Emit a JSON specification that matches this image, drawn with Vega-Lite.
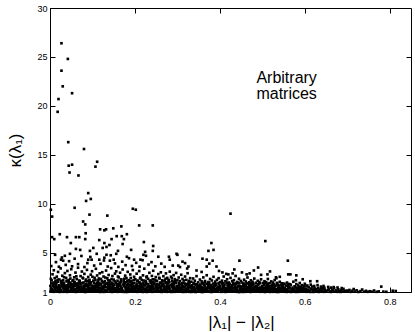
{
"$schema":"https://vega.github.io/schema/vega-lite/v6.json",
"width":361,"height":284,
"autosize":{"type":"none"},
"padding":{"left":50,"top":8,"right":4,"bottom":40},
"background":"white",
"config":{"view":{"stroke":"black","strokeWidth":1},"font":"Liberation Sans",
"axis":{"grid":false,"domainColor":"black","tickColor":"black","tickSize":-5,"labelFontSize":9,"labelColor":"black","labelFont":"Liberation Sans","labelFlush":false,"titleFontSize":17,"titleFontWeight":"normal","titleColor":"black","titleFont":"Liberation Sans"}},
"layer":[
{"data":{"values":[
{"x":0.027,"y":26.4},{"x":0.042,"y":24.8},{"x":0.027,"y":23.6},{"x":0.030,"y":22.0},{"x":0.052,"y":21.3},{"x":0.020,"y":20.7},{"x":0.018,"y":19.4},{"x":0.043,"y":16.3},{"x":0.080,"y":15.6},{"x":0.044,"y":13.9},{"x":0.052,"y":14.0},{"x":0.046,"y":13.2},{"x":0.107,"y":13.8},{"x":0.111,"y":14.3},{"x":0.067,"y":12.9},{"x":0.090,"y":11.1},{"x":0.085,"y":10.3},{"x":0.096,"y":10.5},{"x":0.058,"y":9.6},{"x":0.002,"y":9.4},{"x":0.005,"y":8.7},{"x":0.093,"y":8.9},{"x":0.078,"y":8.2},{"x":0.083,"y":7.9},{"x":0.135,"y":8.8},{"x":0.195,"y":9.5},{"x":0.202,"y":9.4},{"x":0.210,"y":7.8},{"x":0.242,"y":7.8},{"x":0.118,"y":7.4},{"x":0.128,"y":7.3},{"x":0.132,"y":7.4},{"x":0.149,"y":7.5},{"x":0.168,"y":7.7},{"x":0.181,"y":6.9},{"x":0.084,"y":7.0},{"x":0.023,"y":6.9},{"x":0.005,"y":6.6},{"x":0.010,"y":6.4},{"x":0.040,"y":6.6},{"x":0.061,"y":6.6},{"x":0.069,"y":6.6},{"x":0.157,"y":6.7},{"x":0.169,"y":6.7},{"x":0.128,"y":6.0},{"x":0.145,"y":6.4},{"x":0.049,"y":6.0},{"x":0.116,"y":6.3},{"x":0.083,"y":6.4},{"x":0.174,"y":6.4},{"x":0.140,"y":5.8},{"x":0.133,"y":5.6},{"x":0.124,"y":5.5},{"x":0.243,"y":5.7},{"x":0.221,"y":6.1},{"x":0.171,"y":5.9},{"x":0.191,"y":5.3},{"x":0.061,"y":5.4},{"x":0.071,"y":5.3},{"x":0.102,"y":5.5},{"x":0.094,"y":5.2},{"x":0.047,"y":4.9},{"x":0.035,"y":4.7},{"x":0.012,"y":4.8},{"x":0.026,"y":4.3},{"x":0.031,"y":4.2},{"x":0.224,"y":5.1},{"x":0.220,"y":4.8},{"x":0.226,"y":4.7},{"x":0.242,"y":5.2},{"x":0.160,"y":5.2},{"x":0.156,"y":4.9},{"x":0.133,"y":4.8},{"x":0.128,"y":4.5},{"x":0.181,"y":4.6},{"x":0.255,"y":4.6},{"x":0.280,"y":4.6},{"x":0.090,"y":4.3},{"x":0.098,"y":4.3},{"x":0.116,"y":4.3},{"x":0.141,"y":4.2},{"x":0.150,"y":4.3},{"x":0.198,"y":4.3},{"x":0.213,"y":4.3},{"x":0.425,"y":9.0},{"x":0.507,"y":6.2},{"x":0.380,"y":6.0},{"x":0.373,"y":5.2},{"x":0.385,"y":5.3},{"x":0.300,"y":4.8},{"x":0.329,"y":4.8},{"x":0.359,"y":4.4},{"x":0.446,"y":4.2},{"x":0.560,"y":4.2},{"x":0.282,"y":4.3},{"x":0.312,"y":4.1},{"x":0.375,"y":3.9},{"x":0.383,"y":4.2},{"x":0.369,"y":3.6},{"x":0.490,"y":3.5},{"x":0.480,"y":3.2},{"x":0.518,"y":3.1},{"x":0.561,"y":2.8},{"x":0.566,"y":2.8},{"x":0.580,"y":2.7},{"x":0.302,"y":3.7},{"x":0.323,"y":3.4},{"x":0.326,"y":3.6},{"x":0.392,"y":3.6},{"x":0.434,"y":3.3},{"x":0.430,"y":2.9},{"x":0.463,"y":2.8},{"x":0.533,"y":2.4},{"x":0.406,"y":3.0},{"x":0.420,"y":2.8},{"x":0.579,"y":2.2},{"x":0.595,"y":2.3},{"x":0.613,"y":2.1},{"x":0.629,"y":2.1},{"x":0.532,"y":2.5},{"x":0.298,"y":4.9},{"x":0.369,"y":4.3},
{"x":0.001,"y":1.05},{"x":0.003,"y":1.42},{"x":0.004,"y":1.88},{"x":0.006,"y":1.21},{"x":0.007,"y":1.63},{"x":0.009,"y":1.02},{"x":0.010,"y":1.97},{"x":0.012,"y":1.34},{"x":0.013,"y":1.15},{"x":0.015,"y":1.76},{"x":0.016,"y":1.51},{"x":0.018,"y":1.08},{"x":0.019,"y":2.05},{"x":0.021,"y":1.27},{"x":0.022,"y":1.69},{"x":0.024,"y":1.44},{"x":0.025,"y":1.12},{"x":0.027,"y":1.91},{"x":0.028,"y":1.58},{"x":0.030,"y":1.03},{"x":0.031,"y":1.36},{"x":0.033,"y":1.82},{"x":0.034,"y":1.19},{"x":0.036,"y":1.65},{"x":0.037,"y":1.47},{"x":0.039,"y":2.08},{"x":0.040,"y":1.01},{"x":0.042,"y":1.29},{"x":0.043,"y":1.73},{"x":0.045,"y":1.55},{"x":0.046,"y":1.10},{"x":0.048,"y":1.94},{"x":0.049,"y":1.38},{"x":0.002,"y":1.31},{"x":0.008,"y":1.74},{"x":0.014,"y":1.93},{"x":0.020,"y":1.17},{"x":0.026,"y":2.01},{"x":0.032,"y":1.61},{"x":0.038,"y":1.24},{"x":0.044,"y":1.86},{"x":0.047,"y":1.06},{"x":0.011,"y":1.55},{"x":0.017,"y":1.40},{"x":0.023,"y":1.01},{"x":0.029,"y":1.80},{"x":0.035,"y":1.09},{"x":0.041,"y":1.53},{"x":0.005,"y":1.14},{"x":0.050,"y":1.22},
{"x":0.051,"y":1.33},{"x":0.052,"y":1.78},{"x":0.054,"y":1.07},{"x":0.055,"y":1.52},{"x":0.057,"y":1.96},{"x":0.058,"y":1.23},{"x":0.060,"y":1.64},{"x":0.061,"y":1.01},{"x":0.063,"y":1.41},{"x":0.064,"y":1.87},{"x":0.066,"y":1.16},{"x":0.067,"y":1.71},{"x":0.069,"y":1.29},{"x":0.070,"y":2.04},{"x":0.072,"y":1.04},{"x":0.073,"y":1.57},{"x":0.075,"y":1.37},{"x":0.076,"y":1.92},{"x":0.078,"y":1.11},{"x":0.079,"y":1.66},{"x":0.081,"y":1.48},{"x":0.082,"y":1.02},{"x":0.084,"y":1.83},{"x":0.085,"y":1.26},{"x":0.087,"y":1.59},{"x":0.088,"y":2.09},{"x":0.090,"y":1.13},{"x":0.091,"y":1.45},{"x":0.093,"y":1.75},{"x":0.094,"y":1.06},{"x":0.096,"y":1.35},{"x":0.097,"y":1.99},{"x":0.099,"y":1.19},{"x":0.053,"y":1.12},{"x":0.059,"y":1.85},{"x":0.065,"y":1.47},{"x":0.071,"y":1.20},{"x":0.077,"y":1.03},{"x":0.083,"y":1.62},{"x":0.089,"y":1.31},{"x":0.095,"y":1.81},{"x":0.098,"y":1.54},{"x":0.056,"y":1.68},{"x":0.062,"y":1.09},{"x":0.068,"y":1.95},{"x":0.074,"y":1.26},{"x":0.080,"y":1.38},{"x":0.086,"y":1.05},{"x":0.092,"y":1.89},{"x":0.100,"y":1.44},
{"x":0.101,"y":1.08},{"x":0.102,"y":1.61},{"x":0.104,"y":1.93},{"x":0.105,"y":1.30},{"x":0.107,"y":1.14},{"x":0.108,"y":1.79},{"x":0.110,"y":1.46},{"x":0.111,"y":1.03},{"x":0.113,"y":2.02},{"x":0.114,"y":1.25},{"x":0.116,"y":1.67},{"x":0.117,"y":1.39},{"x":0.119,"y":1.10},{"x":0.120,"y":1.85},{"x":0.122,"y":1.56},{"x":0.123,"y":1.18},{"x":0.125,"y":1.98},{"x":0.126,"y":1.34},{"x":0.128,"y":1.02},{"x":0.129,"y":1.72},{"x":0.131,"y":1.49},{"x":0.132,"y":1.21},{"x":0.134,"y":1.90},{"x":0.135,"y":1.07},{"x":0.137,"y":1.60},{"x":0.138,"y":1.43},{"x":0.140,"y":2.07},{"x":0.141,"y":1.15},{"x":0.143,"y":1.77},{"x":0.144,"y":1.28},{"x":0.146,"y":1.01},{"x":0.147,"y":1.53},{"x":0.149,"y":1.84},{"x":0.103,"y":1.37},{"x":0.109,"y":1.06},{"x":0.115,"y":1.88},{"x":0.121,"y":1.23},{"x":0.127,"y":1.64},{"x":0.133,"y":1.11},{"x":0.139,"y":1.32},{"x":0.145,"y":1.96},{"x":0.148,"y":1.04},{"x":0.106,"y":1.52},{"x":0.112,"y":1.70},{"x":0.118,"y":1.01},{"x":0.124,"y":1.42},{"x":0.130,"y":1.16},{"x":0.136,"y":1.81},{"x":0.142,"y":1.50},{"x":0.150,"y":1.27},
{"x":0.151,"y":1.71},{"x":0.152,"y":1.04},{"x":0.154,"y":1.39},{"x":0.155,"y":1.95},{"x":0.157,"y":1.18},{"x":0.158,"y":1.57},{"x":0.160,"y":1.02},{"x":0.161,"y":1.83},{"x":0.163,"y":1.30},{"x":0.164,"y":1.66},{"x":0.166,"y":1.09},{"x":0.167,"y":2.03},{"x":0.169,"y":1.45},{"x":0.170,"y":1.22},{"x":0.172,"y":1.76},{"x":0.173,"y":1.05},{"x":0.175,"y":1.58},{"x":0.176,"y":1.91},{"x":0.178,"y":1.35},{"x":0.179,"y":1.13},{"x":0.181,"y":1.68},{"x":0.182,"y":1.01},{"x":0.184,"y":1.87},{"x":0.185,"y":1.48},{"x":0.187,"y":1.24},{"x":0.188,"y":2.06},{"x":0.190,"y":1.07},{"x":0.191,"y":1.62},{"x":0.193,"y":1.40},{"x":0.194,"y":1.79},{"x":0.196,"y":1.14},{"x":0.197,"y":1.55},{"x":0.199,"y":1.03},{"x":0.153,"y":1.27},{"x":0.159,"y":1.49},{"x":0.165,"y":1.84},{"x":0.171,"y":1.11},{"x":0.177,"y":1.01},{"x":0.183,"y":1.33},{"x":0.189,"y":1.73},{"x":0.195,"y":1.26},{"x":0.198,"y":1.92},{"x":0.156,"y":1.08},{"x":0.162,"y":1.63},{"x":0.168,"y":1.36},{"x":0.174,"y":1.97},{"x":0.180,"y":1.20},{"x":0.186,"y":1.06},{"x":0.192,"y":1.51},{"x":0.200,"y":1.17},
{"x":0.201,"y":1.49},{"x":0.202,"y":1.12},{"x":0.204,"y":1.86},{"x":0.205,"y":1.03},{"x":0.207,"y":1.64},{"x":0.208,"y":1.28},{"x":0.210,"y":1.99},{"x":0.211,"y":1.41},{"x":0.213,"y":1.07},{"x":0.214,"y":1.74},{"x":0.216,"y":1.19},{"x":0.217,"y":1.56},{"x":0.219,"y":1.01},{"x":0.220,"y":1.90},{"x":0.222,"y":1.33},{"x":0.223,"y":1.67},{"x":0.225,"y":1.10},{"x":0.226,"y":2.01},{"x":0.228,"y":1.46},{"x":0.229,"y":1.23},{"x":0.231,"y":1.80},{"x":0.232,"y":1.04},{"x":0.234,"y":1.59},{"x":0.235,"y":1.37},{"x":0.237,"y":1.94},{"x":0.238,"y":1.15},{"x":0.240,"y":1.70},{"x":0.241,"y":1.02},{"x":0.243,"y":1.52},{"x":0.244,"y":1.29},{"x":0.246,"y":1.85},{"x":0.247,"y":1.08},{"x":0.249,"y":1.43},{"x":0.203,"y":1.65},{"x":0.209,"y":1.17},{"x":0.215,"y":1.35},{"x":0.221,"y":1.05},{"x":0.227,"y":1.78},{"x":0.233,"y":1.24},{"x":0.239,"y":1.47},{"x":0.245,"y":1.97},{"x":0.248,"y":1.11},{"x":0.206,"y":1.02},{"x":0.212,"y":1.53},{"x":0.218,"y":1.82},{"x":0.224,"y":1.30},{"x":0.230,"y":1.09},{"x":0.236,"y":1.61},{"x":0.242,"y":1.39},{"x":0.250,"y":1.06},
{"x":0.251,"y":1.26},{"x":0.252,"y":1.81},{"x":0.254,"y":1.05},{"x":0.255,"y":1.44},{"x":0.257,"y":1.69},{"x":0.258,"y":1.13},{"x":0.260,"y":1.96},{"x":0.261,"y":1.32},{"x":0.263,"y":1.01},{"x":0.264,"y":1.58},{"x":0.266,"y":1.20},{"x":0.267,"y":1.77},{"x":0.269,"y":1.40},{"x":0.270,"y":1.07},{"x":0.272,"y":1.89},{"x":0.273,"y":1.51},{"x":0.275,"y":1.16},{"x":0.276,"y":1.65},{"x":0.278,"y":1.03},{"x":0.279,"y":1.36},{"x":0.281,"y":2.00},{"x":0.282,"y":1.24},{"x":0.284,"y":1.72},{"x":0.285,"y":1.09},{"x":0.287,"y":1.48},{"x":0.288,"y":1.84},{"x":0.290,"y":1.14},{"x":0.291,"y":1.55},{"x":0.293,"y":1.02},{"x":0.294,"y":1.31},{"x":0.296,"y":1.93},{"x":0.297,"y":1.18},{"x":0.299,"y":1.62},{"x":0.253,"y":1.09},{"x":0.259,"y":1.50},{"x":0.265,"y":1.87},{"x":0.271,"y":1.22},{"x":0.277,"y":1.43},{"x":0.283,"y":1.04},{"x":0.289,"y":1.66},{"x":0.295,"y":1.34},{"x":0.298,"y":1.06},{"x":0.256,"y":1.74},{"x":0.262,"y":1.11},{"x":0.268,"y":1.28},{"x":0.274,"y":1.99},{"x":0.280,"y":1.57},{"x":0.286,"y":1.01},{"x":0.292,"y":1.79},{"x":0.300,"y":1.38},
{"x":0.301,"y":1.03},{"x":0.302,"y":1.57},{"x":0.304,"y":1.22},{"x":0.305,"y":1.84},{"x":0.307,"y":1.40},{"x":0.308,"y":1.10},{"x":0.310,"y":1.71},{"x":0.311,"y":1.29},{"x":0.313,"y":1.01},{"x":0.314,"y":1.93},{"x":0.316,"y":1.47},{"x":0.317,"y":1.15},{"x":0.319,"y":1.63},{"x":0.320,"y":1.36},{"x":0.322,"y":1.06},{"x":0.323,"y":1.80},{"x":0.325,"y":1.24},{"x":0.326,"y":1.54},{"x":0.328,"y":1.02},{"x":0.329,"y":1.97},{"x":0.331,"y":1.42},{"x":0.332,"y":1.12},{"x":0.334,"y":1.68},{"x":0.335,"y":1.31},{"x":0.337,"y":1.08},{"x":0.338,"y":1.88},{"x":0.340,"y":1.50},{"x":0.341,"y":1.19},{"x":0.343,"y":1.75},{"x":0.344,"y":1.04},{"x":0.346,"y":1.38},{"x":0.347,"y":1.59},{"x":0.349,"y":1.14},{"x":0.303,"y":1.91},{"x":0.309,"y":1.45},{"x":0.315,"y":1.05},{"x":0.321,"y":1.27},{"x":0.327,"y":1.72},{"x":0.333,"y":1.01},{"x":0.339,"y":1.33},{"x":0.345,"y":1.82},{"x":0.348,"y":1.23},{"x":0.306,"y":1.18},{"x":0.312,"y":1.61},{"x":0.318,"y":1.86},{"x":0.324,"y":1.09},{"x":0.330,"y":1.53},{"x":0.336,"y":1.26},{"x":0.342,"y":1.02},{"x":0.350,"y":1.66},
{"x":0.351,"y":1.39},{"x":0.352,"y":1.07},{"x":0.354,"y":1.76},{"x":0.355,"y":1.21},{"x":0.357,"y":1.52},{"x":0.358,"y":1.01},{"x":0.360,"y":1.90},{"x":0.361,"y":1.33},{"x":0.363,"y":1.12},{"x":0.364,"y":1.65},{"x":0.366,"y":1.44},{"x":0.367,"y":1.04},{"x":0.369,"y":1.83},{"x":0.370,"y":1.27},{"x":0.372,"y":1.58},{"x":0.373,"y":1.10},{"x":0.375,"y":1.95},{"x":0.376,"y":1.37},{"x":0.378,"y":1.02},{"x":0.379,"y":1.70},{"x":0.381,"y":1.48},{"x":0.382,"y":1.17},{"x":0.384,"y":1.86},{"x":0.385,"y":1.06},{"x":0.387,"y":1.62},{"x":0.388,"y":1.30},{"x":0.390,"y":1.13},{"x":0.391,"y":1.78},{"x":0.393,"y":1.41},{"x":0.394,"y":1.03},{"x":0.396,"y":1.55},{"x":0.397,"y":1.92},{"x":0.399,"y":1.24},{"x":0.353,"y":1.60},{"x":0.359,"y":1.15},{"x":0.365,"y":1.98},{"x":0.371,"y":1.05},{"x":0.377,"y":1.46},{"x":0.383,"y":1.29},{"x":0.389,"y":1.67},{"x":0.395,"y":1.11},{"x":0.398,"y":1.81},{"x":0.356,"y":1.28},{"x":0.362,"y":1.02},{"x":0.368,"y":1.35},{"x":0.374,"y":1.73},{"x":0.380,"y":1.08},{"x":0.386,"y":1.50},{"x":0.392,"y":1.19},{"x":0.400,"y":1.43},
{"x":0.401,"y":1.62},{"x":0.402,"y":1.11},{"x":0.404,"y":1.34},{"x":0.405,"y":1.87},{"x":0.407,"y":1.04},{"x":0.408,"y":1.49},{"x":0.410,"y":1.23},{"x":0.411,"y":1.76},{"x":0.413,"y":1.01},{"x":0.414,"y":1.41},{"x":0.416,"y":1.95},{"x":0.417,"y":1.17},{"x":0.419,"y":1.57},{"x":0.420,"y":1.08},{"x":0.422,"y":1.30},{"x":0.423,"y":1.82},{"x":0.425,"y":1.45},{"x":0.426,"y":1.03},{"x":0.428,"y":1.69},{"x":0.429,"y":1.20},{"x":0.431,"y":1.91},{"x":0.432,"y":1.36},{"x":0.434,"y":1.06},{"x":0.435,"y":1.54},{"x":0.437,"y":1.27},{"x":0.438,"y":1.78},{"x":0.440,"y":1.02},{"x":0.441,"y":1.47},{"x":0.443,"y":1.14},{"x":0.444,"y":1.63},{"x":0.446,"y":1.88},{"x":0.447,"y":1.32},{"x":0.449,"y":1.09},{"x":0.403,"y":1.05},{"x":0.409,"y":1.67},{"x":0.415,"y":1.26},{"x":0.421,"y":1.52},{"x":0.427,"y":1.12},{"x":0.433,"y":1.85},{"x":0.439,"y":1.39},{"x":0.445,"y":1.01},{"x":0.448,"y":1.58},{"x":0.406,"y":1.29},{"x":0.412,"y":1.07},{"x":0.418,"y":1.73},{"x":0.424,"y":1.18},{"x":0.430,"y":1.43},{"x":0.436,"y":1.03},{"x":0.442,"y":1.93},{"x":0.450,"y":1.21},
{"x":0.451,"y":1.08},{"x":0.452,"y":1.55},{"x":0.454,"y":1.31},{"x":0.455,"y":1.80},{"x":0.457,"y":1.14},{"x":0.458,"y":1.42},{"x":0.460,"y":1.02},{"x":0.461,"y":1.67},{"x":0.463,"y":1.25},{"x":0.464,"y":1.88},{"x":0.466,"y":1.06},{"x":0.467,"y":1.37},{"x":0.469,"y":1.59},{"x":0.470,"y":1.19},{"x":0.472,"y":1.01},{"x":0.473,"y":1.74},{"x":0.475,"y":1.46},{"x":0.476,"y":1.10},{"x":0.478,"y":1.28},{"x":0.479,"y":1.84},{"x":0.481,"y":1.04},{"x":0.482,"y":1.52},{"x":0.484,"y":1.22},{"x":0.485,"y":1.65},{"x":0.487,"y":1.35},{"x":0.488,"y":1.03},{"x":0.490,"y":1.77},{"x":0.491,"y":1.16},{"x":0.493,"y":1.43},{"x":0.494,"y":1.90},{"x":0.496,"y":1.07},{"x":0.497,"y":1.33},{"x":0.499,"y":1.61},{"x":0.453,"y":1.04},{"x":0.459,"y":1.23},{"x":0.465,"y":1.50},{"x":0.471,"y":1.30},{"x":0.477,"y":1.71},{"x":0.483,"y":1.12},{"x":0.489,"y":1.40},{"x":0.495,"y":1.02},{"x":0.498,"y":1.20},{"x":0.456,"y":1.63},{"x":0.462,"y":1.11},{"x":0.468,"y":1.82},{"x":0.474,"y":1.05},{"x":0.480,"y":1.39},{"x":0.486,"y":1.56},{"x":0.492,"y":1.27},{"x":0.500,"y":1.13},
{"x":0.501,"y":1.44},{"x":0.502,"y":1.05},{"x":0.504,"y":1.70},{"x":0.505,"y":1.22},{"x":0.507,"y":1.01},{"x":0.508,"y":1.53},{"x":0.510,"y":1.32},{"x":0.511,"y":1.12},{"x":0.513,"y":1.81},{"x":0.514,"y":1.40},{"x":0.516,"y":1.03},{"x":0.517,"y":1.62},{"x":0.519,"y":1.26},{"x":0.520,"y":1.09},{"x":0.522,"y":1.48},{"x":0.523,"y":1.75},{"x":0.525,"y":1.17},{"x":0.526,"y":1.02},{"x":0.528,"y":1.37},{"x":0.529,"y":1.58},{"x":0.531,"y":1.07},{"x":0.532,"y":1.29},{"x":0.534,"y":1.85},{"x":0.535,"y":1.14},{"x":0.537,"y":1.46},{"x":0.538,"y":1.01},{"x":0.540,"y":1.66},{"x":0.541,"y":1.21},{"x":0.543,"y":1.35},{"x":0.544,"y":1.05},{"x":0.546,"y":1.54},{"x":0.547,"y":1.78},{"x":0.549,"y":1.11},{"x":0.503,"y":1.29},{"x":0.509,"y":1.08},{"x":0.515,"y":1.57},{"x":0.521,"y":1.19},{"x":0.527,"y":1.68},{"x":0.533,"y":1.04},{"x":0.539,"y":1.31},{"x":0.545,"y":1.24},{"x":0.548,"y":1.43},{"x":0.506,"y":1.90},{"x":0.512,"y":1.64},{"x":0.518,"y":1.01},{"x":0.524,"y":1.41},{"x":0.530,"y":1.15},{"x":0.536,"y":1.72},{"x":0.542,"y":1.06},{"x":0.550,"y":1.33},
{"x":0.001,"y":1.62},{"x":0.004,"y":1.27},{"x":0.007,"y":1.09},{"x":0.010,"y":1.48},{"x":0.013,"y":1.71},{"x":0.016,"y":1.04},{"x":0.019,"y":1.33},{"x":0.022,"y":1.56},{"x":0.025,"y":1.19},{"x":0.028,"y":1.79},{"x":0.031,"y":1.02},{"x":0.034,"y":1.44},{"x":0.037,"y":1.28},{"x":0.040,"y":1.67},{"x":0.043,"y":1.13},{"x":0.046,"y":1.52},{"x":0.049,"y":1.75},{"x":0.012,"y":1.88},{"x":0.032,"y":1.93},{"x":0.045,"y":1.99},
{"x":0.051,"y":1.58},{"x":0.054,"y":1.39},{"x":0.057,"y":1.15},{"x":0.060,"y":1.27},{"x":0.063,"y":1.72},{"x":0.066,"y":1.03},{"x":0.069,"y":1.50},{"x":0.072,"y":1.84},{"x":0.075,"y":1.10},{"x":0.078,"y":1.43},{"x":0.081,"y":1.22},{"x":0.084,"y":1.01},{"x":0.087,"y":1.76},{"x":0.090,"y":1.57},{"x":0.093,"y":1.30},{"x":0.096,"y":1.08},{"x":0.099,"y":1.65},{"x":0.058,"y":2.00},{"x":0.079,"y":1.97},{"x":0.094,"y":1.91},
{"x":0.101,"y":1.29},{"x":0.104,"y":1.05},{"x":0.107,"y":1.63},{"x":0.110,"y":1.21},{"x":0.113,"y":1.47},{"x":0.116,"y":1.09},{"x":0.119,"y":1.77},{"x":0.122,"y":1.35},{"x":0.125,"y":1.02},{"x":0.128,"y":1.55},{"x":0.131,"y":1.86},{"x":0.134,"y":1.14},{"x":0.137,"y":1.40},{"x":0.140,"y":1.68},{"x":0.143,"y":1.03},{"x":0.146,"y":1.31},{"x":0.149,"y":1.58},{"x":0.111,"y":1.94},{"x":0.126,"y":1.99},{"x":0.138,"y":1.91},
{"x":0.151,"y":1.36},{"x":0.154,"y":1.12},{"x":0.157,"y":1.78},{"x":0.160,"y":1.44},{"x":0.163,"y":1.06},{"x":0.166,"y":1.59},{"x":0.169,"y":1.25},{"x":0.172,"y":1.02},{"x":0.175,"y":1.83},{"x":0.178,"y":1.51},{"x":0.181,"y":1.17},{"x":0.184,"y":1.37},{"x":0.187,"y":1.70},{"x":0.190,"y":1.29},{"x":0.193,"y":1.04},{"x":0.196,"y":1.64},{"x":0.199,"y":1.42},{"x":0.164,"y":1.96},{"x":0.179,"y":1.99},{"x":0.192,"y":1.90},
{"x":0.201,"y":1.03},{"x":0.204,"y":1.38},{"x":0.207,"y":1.22},{"x":0.210,"y":1.58},{"x":0.213,"y":1.85},{"x":0.216,"y":1.07},{"x":0.219,"y":1.46},{"x":0.222,"y":1.71},{"x":0.225,"y":1.31},{"x":0.228,"y":1.01},{"x":0.231,"y":1.55},{"x":0.234,"y":1.16},{"x":0.237,"y":1.42},{"x":0.240,"y":1.27},{"x":0.243,"y":1.76},{"x":0.246,"y":1.05},{"x":0.249,"y":1.63},{"x":0.211,"y":1.94},{"x":0.226,"y":1.89},{"x":0.241,"y":2.02},
{"x":0.251,"y":1.62},{"x":0.254,"y":1.31},{"x":0.257,"y":1.04},{"x":0.260,"y":1.47},{"x":0.263,"y":1.73},{"x":0.266,"y":1.15},{"x":0.269,"y":1.58},{"x":0.272,"y":1.27},{"x":0.275,"y":1.02},{"x":0.278,"y":1.86},{"x":0.281,"y":1.41},{"x":0.284,"y":1.10},{"x":0.287,"y":1.67},{"x":0.290,"y":1.35},{"x":0.293,"y":1.52},{"x":0.296,"y":1.06},{"x":0.299,"y":1.23},{"x":0.259,"y":1.92},{"x":0.277,"y":1.96},{"x":0.291,"y":2.03},
{"x":0.301,"y":1.48},{"x":0.304,"y":1.65},{"x":0.307,"y":1.05},{"x":0.310,"y":1.34},{"x":0.313,"y":1.57},{"x":0.316,"y":1.21},{"x":0.319,"y":1.02},{"x":0.322,"y":1.76},{"x":0.325,"y":1.43},{"x":0.328,"y":1.13},{"x":0.331,"y":1.63},{"x":0.334,"y":1.07},{"x":0.337,"y":1.52},{"x":0.340,"y":1.28},{"x":0.343,"y":1.01},{"x":0.346,"y":1.70},{"x":0.349,"y":1.41},{"x":0.311,"y":1.89},{"x":0.326,"y":1.95},{"x":0.339,"y":1.84},
{"x":0.351,"y":1.17},{"x":0.354,"y":1.53},{"x":0.357,"y":1.02},{"x":0.360,"y":1.41},{"x":0.363,"y":1.74},{"x":0.366,"y":1.22},{"x":0.369,"y":1.06},{"x":0.372,"y":1.45},{"x":0.375,"y":1.63},{"x":0.378,"y":1.30},{"x":0.381,"y":1.01},{"x":0.384,"y":1.56},{"x":0.387,"y":1.19},{"x":0.390,"y":1.71},{"x":0.393,"y":1.08},{"x":0.396,"y":1.36},{"x":0.399,"y":1.50},{"x":0.358,"y":1.88},{"x":0.373,"y":1.92},{"x":0.389,"y":1.85},
{"x":0.401,"y":1.26},{"x":0.404,"y":1.02},{"x":0.407,"y":1.71},{"x":0.410,"y":1.46},{"x":0.413,"y":1.15},{"x":0.416,"y":1.33},{"x":0.419,"y":1.04},{"x":0.422,"y":1.60},{"x":0.425,"y":1.22},{"x":0.428,"y":1.48},{"x":0.431,"y":1.07},{"x":0.434,"y":1.76},{"x":0.437,"y":1.38},{"x":0.440,"y":1.18},{"x":0.443,"y":1.57},{"x":0.446,"y":1.01},{"x":0.449,"y":1.40},{"x":0.408,"y":1.90},{"x":0.421,"y":1.86},{"x":0.439,"y":1.92},
{"x":0.451,"y":1.36},{"x":0.454,"y":1.01},{"x":0.457,"y":1.61},{"x":0.460,"y":1.28},{"x":0.463,"y":1.47},{"x":0.466,"y":1.13},{"x":0.469,"y":1.03},{"x":0.472,"y":1.55},{"x":0.475,"y":1.22},{"x":0.478,"y":1.69},{"x":0.481,"y":1.34},{"x":0.484,"y":1.05},{"x":0.487,"y":1.52},{"x":0.490,"y":1.18},{"x":0.493,"y":1.07},{"x":0.496,"y":1.45},{"x":0.499,"y":1.30},{"x":0.458,"y":1.84},{"x":0.474,"y":1.88},{"x":0.491,"y":1.79},
{"x":0.501,"y":1.18},{"x":0.504,"y":1.02},{"x":0.507,"y":1.38},{"x":0.510,"y":1.60},{"x":0.513,"y":1.09},{"x":0.516,"y":1.27},{"x":0.519,"y":1.49},{"x":0.522,"y":1.04},{"x":0.525,"y":1.34},{"x":0.528,"y":1.12},{"x":0.531,"y":1.63},{"x":0.534,"y":1.01},{"x":0.537,"y":1.23},{"x":0.540,"y":1.45},{"x":0.543,"y":1.07},{"x":0.546,"y":1.30},{"x":0.549,"y":1.59},{"x":0.511,"y":1.84},{"x":0.527,"y":1.80},{"x":0.544,"y":1.76},
{"x":0.551,"y":1.04},{"x":0.553,"y":1.42},{"x":0.554,"y":1.18},{"x":0.556,"y":1.65},{"x":0.557,"y":1.01},{"x":0.559,"y":1.29},{"x":0.561,"y":1.52},{"x":0.562,"y":1.09},{"x":0.564,"y":1.36},{"x":0.566,"y":1.02},{"x":0.567,"y":1.73},{"x":0.569,"y":1.21},{"x":0.571,"y":1.45},{"x":0.572,"y":1.06},{"x":0.574,"y":1.31},{"x":0.576,"y":1.58},{"x":0.577,"y":1.13},{"x":0.579,"y":1.01},{"x":0.581,"y":1.40},{"x":0.582,"y":1.24},{"x":0.584,"y":1.67},{"x":0.586,"y":1.07},{"x":0.587,"y":1.33},{"x":0.589,"y":1.15},{"x":0.591,"y":1.50},{"x":0.592,"y":1.03},{"x":0.594,"y":1.27},{"x":0.596,"y":1.44},{"x":0.597,"y":1.10},{"x":0.599,"y":1.20},{"x":0.555,"y":1.11},{"x":0.563,"y":1.82},{"x":0.570,"y":1.26},{"x":0.578,"y":1.47},{"x":0.585,"y":1.02},{"x":0.590,"y":1.35},{"x":0.598,"y":1.62},
{"x":0.552,"y":1.25},{"x":0.558,"y":1.08},{"x":0.564,"y":1.47},{"x":0.569,"y":1.02},{"x":0.575,"y":1.22},{"x":0.581,"y":1.05},{"x":0.587,"y":1.55},{"x":0.593,"y":1.12},{"x":0.598,"y":1.35},{"x":0.560,"y":1.70},
{"x":0.601,"y":1.08},{"x":0.603,"y":1.33},{"x":0.605,"y":1.02},{"x":0.607,"y":1.21},{"x":0.609,"y":1.47},{"x":0.611,"y":1.12},{"x":0.613,"y":1.01},{"x":0.615,"y":1.29},{"x":0.617,"y":1.55},{"x":0.619,"y":1.06},{"x":0.621,"y":1.17},{"x":0.623,"y":1.38},{"x":0.625,"y":1.03},{"x":0.627,"y":1.24},{"x":0.629,"y":1.11},{"x":0.631,"y":1.42},{"x":0.633,"y":1.01},{"x":0.635,"y":1.19},{"x":0.637,"y":1.31},{"x":0.639,"y":1.05},{"x":0.641,"y":1.14},{"x":0.643,"y":1.36},{"x":0.645,"y":1.02},{"x":0.647,"y":1.22},{"x":0.649,"y":1.09},{"x":0.604,"y":1.60},{"x":0.618,"y":1.26},{"x":0.632,"y":1.07},{"x":0.646,"y":1.44},
{"x":0.602,"y":1.18},{"x":0.608,"y":1.05},{"x":0.614,"y":1.34},{"x":0.620,"y":1.01},{"x":0.626,"y":1.28},{"x":0.634,"y":1.15},{"x":0.640,"y":1.40},{"x":0.648,"y":1.04},
{"x":0.651,"y":1.03},{"x":0.654,"y":1.18},{"x":0.656,"y":1.31},{"x":0.659,"y":1.06},{"x":0.661,"y":1.01},{"x":0.664,"y":1.24},{"x":0.666,"y":1.12},{"x":0.669,"y":1.37},{"x":0.671,"y":1.04},{"x":0.674,"y":1.16},{"x":0.676,"y":1.02},{"x":0.679,"y":1.27},{"x":0.681,"y":1.09},{"x":0.684,"y":1.01},{"x":0.686,"y":1.20},{"x":0.689,"y":1.05},{"x":0.691,"y":1.32},{"x":0.694,"y":1.11},{"x":0.696,"y":1.03},{"x":0.699,"y":1.15},{"x":0.662,"y":1.45},{"x":0.687,"y":1.40},
{"x":0.702,"y":1.06},{"x":0.705,"y":1.21},{"x":0.708,"y":1.02},{"x":0.712,"y":1.13},{"x":0.715,"y":1.30},{"x":0.718,"y":1.04},{"x":0.722,"y":1.17},{"x":0.726,"y":1.01},{"x":0.731,"y":1.09},{"x":0.735,"y":1.25},{"x":0.739,"y":1.03},{"x":0.744,"y":1.12},{"x":0.748,"y":1.02},
{"x":0.753,"y":1.08},{"x":0.758,"y":1.03},{"x":0.763,"y":1.15},{"x":0.769,"y":1.02},{"x":0.774,"y":1.06},{"x":0.780,"y":1.55},{"x":0.785,"y":1.04},{"x":0.807,"y":1.13},{"x":0.814,"y":1.10},{"x":0.792,"y":1.02},
{"x":0.002,"y":2.35},{"x":0.006,"y":2.81},{"x":0.009,"y":3.22},{"x":0.013,"y":2.14},{"x":0.016,"y":2.57},{"x":0.019,"y":3.05},{"x":0.022,"y":2.28},{"x":0.025,"y":3.41},{"x":0.029,"y":2.66},{"x":0.031,"y":2.19},{"x":0.035,"y":2.93},{"x":0.038,"y":2.44},{"x":0.041,"y":3.15},{"x":0.044,"y":2.22},{"x":0.047,"y":2.71},{"x":0.050,"y":3.33},{"x":0.053,"y":2.12},{"x":0.057,"y":2.50},{"x":0.060,"y":2.98},{"x":0.063,"y":2.31},{"x":0.066,"y":3.48},{"x":0.069,"y":2.17},{"x":0.072,"y":2.62},{"x":0.075,"y":3.09},{"x":0.078,"y":2.39},{"x":0.081,"y":2.85},{"x":0.084,"y":2.13},{"x":0.087,"y":3.26},{"x":0.090,"y":2.53},{"x":0.093,"y":2.24},{"x":0.096,"y":2.77},{"x":0.099,"y":3.12},{"x":0.102,"y":2.16},{"x":0.105,"y":2.45},{"x":0.108,"y":3.37},{"x":0.111,"y":2.69},{"x":0.114,"y":2.20},{"x":0.117,"y":2.91},{"x":0.120,"y":2.33},{"x":0.123,"y":3.02},{"x":0.126,"y":2.58},{"x":0.129,"y":2.11},{"x":0.132,"y":3.19},{"x":0.135,"y":2.40},{"x":0.138,"y":2.74},{"x":0.141,"y":2.18},{"x":0.144,"y":3.44},{"x":0.147,"y":2.63},{"x":0.150,"y":2.26},{"x":0.153,"y":2.88},{"x":0.156,"y":3.11},{"x":0.159,"y":2.15},{"x":0.162,"y":2.49},{"x":0.165,"y":2.97},{"x":0.168,"y":2.29},{"x":0.171,"y":3.30},{"x":0.174,"y":2.13},{"x":0.177,"y":2.67},{"x":0.180,"y":2.42},{"x":0.183,"y":3.06},{"x":0.186,"y":2.21},{"x":0.189,"y":2.79},{"x":0.192,"y":2.12},{"x":0.195,"y":3.24},{"x":0.198,"y":2.55},{"x":0.201,"y":2.30},{"x":0.204,"y":2.87},{"x":0.207,"y":2.16},{"x":0.210,"y":3.14},{"x":0.213,"y":2.47},{"x":0.216,"y":2.23},{"x":0.219,"y":2.70},{"x":0.222,"y":3.38},{"x":0.225,"y":2.14},{"x":0.228,"y":2.59},{"x":0.231,"y":2.35},{"x":0.234,"y":2.96},{"x":0.237,"y":2.18},{"x":0.240,"y":2.64},{"x":0.243,"y":3.17},{"x":0.246,"y":2.27},{"x":0.249,"y":2.52},{"x":0.252,"y":2.12},{"x":0.255,"y":2.83},{"x":0.258,"y":2.38},{"x":0.261,"y":3.01},{"x":0.264,"y":2.20},{"x":0.267,"y":2.61},{"x":0.270,"y":2.15},{"x":0.273,"y":2.90},{"x":0.276,"y":2.44},{"x":0.279,"y":2.25},{"x":0.282,"y":3.08},{"x":0.285,"y":2.56},{"x":0.288,"y":2.13},{"x":0.291,"y":2.72},{"x":0.294,"y":2.31},{"x":0.297,"y":2.95},{"x":0.300,"y":2.19},{"x":0.303,"y":2.48},{"x":0.306,"y":2.12},{"x":0.309,"y":2.76},{"x":0.312,"y":2.33},{"x":0.315,"y":2.17},{"x":0.318,"y":2.58},{"x":0.321,"y":2.24},{"x":0.324,"y":2.92},{"x":0.327,"y":2.14},{"x":0.330,"y":2.41},
{"x":0.004,"y":2.18},{"x":0.011,"y":2.42},{"x":0.018,"y":2.25},{"x":0.027,"y":2.13},{"x":0.033,"y":2.51},{"x":0.040,"y":2.16},{"x":0.048,"y":2.37},{"x":0.055,"y":2.21},{"x":0.062,"y":2.60},{"x":0.070,"y":2.11},{"x":0.077,"y":2.46},{"x":0.085,"y":2.27},{"x":0.092,"y":2.14},{"x":0.100,"y":2.55},{"x":0.107,"y":2.23},{"x":0.115,"y":2.38},{"x":0.122,"y":2.12},{"x":0.130,"y":2.48},{"x":0.137,"y":2.19},{"x":0.145,"y":2.32},{"x":0.152,"y":2.11},{"x":0.160,"y":2.58},{"x":0.167,"y":2.20},{"x":0.175,"y":2.36},{"x":0.182,"y":2.15},{"x":0.190,"y":2.43},{"x":0.197,"y":2.22},{"x":0.205,"y":2.13},{"x":0.212,"y":2.39},{"x":0.220,"y":2.17},{"x":0.227,"y":2.50},{"x":0.235,"y":2.12},{"x":0.242,"y":2.29},{"x":0.250,"y":2.16},{"x":0.257,"y":2.45},{"x":0.265,"y":2.11},{"x":0.272,"y":2.34},{"x":0.280,"y":2.18},{"x":0.287,"y":2.40},{"x":0.295,"y":2.13},
{"x":0.333,"y":2.05},{"x":0.337,"y":2.38},{"x":0.341,"y":2.15},{"x":0.345,"y":2.62},{"x":0.349,"y":1.98},{"x":0.353,"y":2.27},{"x":0.357,"y":2.08},{"x":0.361,"y":2.49},{"x":0.365,"y":2.12},{"x":0.369,"y":2.71},{"x":0.373,"y":2.02},{"x":0.377,"y":2.33},{"x":0.381,"y":2.18},{"x":0.385,"y":2.55},{"x":0.389,"y":2.06},{"x":0.393,"y":2.24},{"x":0.397,"y":2.41},{"x":0.401,"y":2.01},{"x":0.405,"y":2.16},{"x":0.409,"y":2.58},{"x":0.413,"y":2.09},{"x":0.417,"y":2.30},{"x":0.421,"y":1.97},{"x":0.425,"y":2.44},{"x":0.429,"y":2.11},{"x":0.433,"y":2.21},{"x":0.437,"y":2.64},{"x":0.441,"y":2.03},{"x":0.445,"y":2.35},{"x":0.449,"y":2.13},{"x":0.453,"y":1.96},{"x":0.457,"y":2.26},{"x":0.461,"y":2.07},{"x":0.465,"y":2.48},{"x":0.469,"y":1.99},{"x":0.473,"y":2.19},{"x":0.477,"y":2.05},{"x":0.481,"y":2.37},{"x":0.485,"y":1.94},{"x":0.489,"y":2.14},{"x":0.493,"y":2.02},{"x":0.497,"y":2.29},{"x":0.501,"y":1.92},{"x":0.505,"y":2.10},{"x":0.509,"y":2.00},{"x":0.513,"y":2.33},{"x":0.517,"y":1.91},{"x":0.521,"y":2.08},{"x":0.525,"y":1.97},{"x":0.529,"y":2.22},{"x":0.535,"y":1.93},{"x":0.541,"y":2.04},{"x":0.547,"y":1.89},
{"x":0.552,"y":1.85},{"x":0.558,"y":1.96},{"x":0.565,"y":1.78},{"x":0.573,"y":2.05},{"x":0.580,"y":1.81},{"x":0.588,"y":1.92},{"x":0.593,"y":1.70},{"x":0.600,"y":1.84},{"x":0.606,"y":1.66},{"x":0.614,"y":1.75},{"x":0.622,"y":1.61},{"x":0.630,"y":1.70},{"x":0.638,"y":1.55},{"x":0.644,"y":1.62},{"x":0.655,"y":1.52},{"x":0.668,"y":1.50},{"x":0.677,"y":1.46},
{"x":0.003,"y":3.65},{"x":0.014,"y":4.05},{"x":0.021,"y":3.58},{"x":0.028,"y":4.52},{"x":0.037,"y":3.77},{"x":0.045,"y":4.15},{"x":0.052,"y":3.62},{"x":0.058,"y":4.40},{"x":0.066,"y":3.85},{"x":0.074,"y":4.68},{"x":0.081,"y":3.55},{"x":0.088,"y":3.95},{"x":0.095,"y":4.58},{"x":0.104,"y":3.70},{"x":0.110,"y":4.90},{"x":0.119,"y":3.88},{"x":0.127,"y":4.22},{"x":0.136,"y":3.60},{"x":0.143,"y":4.75},{"x":0.153,"y":3.92},{"x":0.161,"y":3.56},{"x":0.170,"y":4.10},{"x":0.178,"y":3.74},{"x":0.186,"y":4.45},{"x":0.193,"y":3.66},{"x":0.203,"y":3.98},{"x":0.211,"y":3.59},{"x":0.218,"y":4.25},{"x":0.232,"y":3.80},{"x":0.239,"y":4.05},{"x":0.248,"y":3.62},{"x":0.262,"y":3.90},{"x":0.270,"y":3.57},{"x":0.289,"y":3.70},{"x":0.306,"y":3.55},{"x":0.318,"y":3.95},
{"x":0.345,"y":3.20},{"x":0.357,"y":3.05},{"x":0.398,"y":3.15},{"x":0.415,"y":2.85},{"x":0.452,"y":3.00},{"x":0.470,"y":2.90},{"x":0.497,"y":2.75},{"x":0.512,"y":2.80},{"x":0.541,"y":2.55}
]},
"mark":{"type":"square","size":7,"color":"black","opacity":1,"filled":true,"strokeWidth":0},
"encoding":{
"x":{"field":"x","type":"quantitative","scale":{"domain":[0,0.85],"nice":false,"zero":false},
"axis":{"values":[0,0.2,0.4,0.6,0.8],"format":"~g","labelPadding":10,"title":"|λ₁| − |λ₂|","titleX":191,"titleY":35,"titleAlign":"center","titleBaseline":"alphabetic"}},
"y":{"field":"y","type":"quantitative","scale":{"domain":[1,30],"nice":false,"zero":false},
"axis":{"values":[1,5,10,15,20,25,30],"labelPadding":8,"title":"κ(λ₁)","titleX":-30,"titleY":142,"titleAngle":-90,"titleAlign":"center","titleBaseline":"alphabetic"}}}},
{"data":{"values":[{"x":0.486,"y":22.3,"label":"Arbitrary"},{"x":0.486,"y":20.7,"label":"matrices"}]},
"mark":{"type":"text","align":"left","baseline":"alphabetic","fontSize":16,"font":"Liberation Sans","color":"black"},
"encoding":{
"x":{"field":"x","type":"quantitative","scale":{"domain":[0,0.85],"nice":false,"zero":false},
"axis":{"orient":"top","values":[0,0.2,0.4,0.6,0.8],"labels":false,"title":null,"domain":false}},
"y":{"field":"y","type":"quantitative","scale":{"domain":[1,30],"nice":false,"zero":false},
"axis":{"orient":"right","values":[5,10,15,20,25],"labels":false,"title":null,"domain":false}},
"text":{"field":"label"}}}
],
"resolve":{"axis":{"x":"independent","y":"independent"}}
}
